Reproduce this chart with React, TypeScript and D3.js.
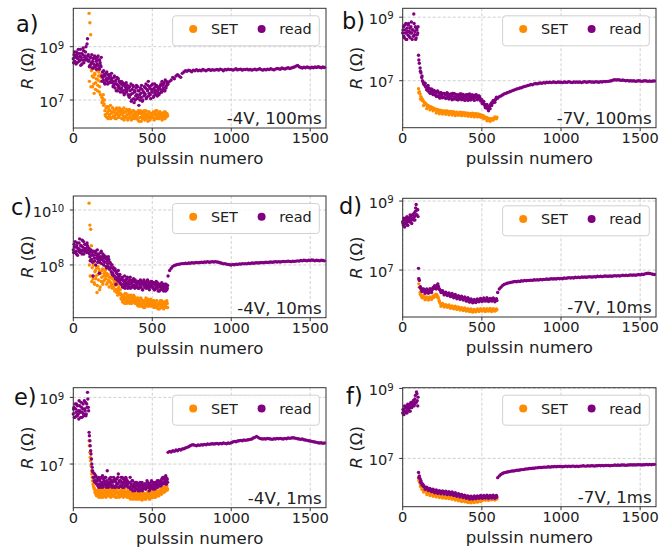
import React from 'react';
import * as d3 from 'd3';

const W = 661;
const H = 556;
const ORANGE = '#ff8c00';
const PURPLE = '#800080';
const FONT = '"DejaVu Sans", sans-serif';

// x axis ticks (pulse number)
const xTicks = [0, 500, 1000, 1500];
const X_MAX = 1600;

// where each measured run starts, and its pulse spacing
const PRISTINE_START = 0;
const PRISTINE_START_2 = 2;
const MID_START = 100;
const MID_START_2 = 102;
const TAIL_START = 600;
const FINE_STEP = 5;
const COARSE_STEP = 10;
const TAIL_STEP = 10;

// ---- a) -4V, 100ms : log10(R / Ω) ----
const aReadPristine = [8.55,8.7,8.45,8.65,8.8,8.4,8.6,8.75,8.5,8.9,8.6,8.35,8.7,8.85,8.5,8.65,9.0,8.55,9.3,8.7];
const aReadPristine2 = [8.4,8.8,8.6,8.35,8.7,8.55,8.9,8.45,8.65,8.3,8.75,8.5,8.95,8.4,8.6,8.8,8.5,9.1,8.65,8.45];
const aReadMid = [
  8.5,8.3,8.6,8.4,8.2,8.55,8.35,8.65,8.25,8.45,8.6,8.3,8.5,8.15,8.4,8.25,
  7.9,8.05,7.75,7.95,7.6,8.0,7.8,7.7,7.95,7.85,7.65,7.9,7.75,7.8,
  7.7,7.55,7.9,7.45,7.75,7.6,7.35,7.8,7.5,7.65,7.4,7.7,7.3,7.55,7.6,7.25,7.5,7.65,7.35,7.45,
  7.45,7.1,7.35,7.6,7.0,7.25,7.5,6.9,7.3,7.15,7.55,7.05,7.35,6.8,7.2,7.45,7.1,7.4,7.0,7.3,
  7.5,7.2,7.6,7.1,7.35,7.7,7.25,7.45,7.05,7.55,7.3,7.4,7.15,7.6,7.35,7.2,7.5,7.3,7.45,7.25,
  7.4,7.6,7.3,7.55,7.45,7.65,7.35,7.5,7.7,7.6];
const aReadMid2 = [
  8.25,8.6,8.35,8.7,8.45,8.2,8.6,8.3,8.55,8.15,8.35,8.65,8.2,8.5,8.3,8.6,
  7.7,7.85,8.1,7.65,7.9,7.75,8.05,7.6,7.8,7.95,7.85,7.7,8.0,7.65,
  7.5,7.85,7.6,7.7,7.35,7.85,7.55,7.45,7.7,7.3,7.6,7.45,7.65,7.35,7.2,7.6,7.4,7.3,7.55,7.2,
  7.15,7.5,7.2,6.95,7.4,7.55,7.05,7.35,7.0,7.45,7.2,7.5,7.1,7.35,7.0,7.25,7.55,6.95,7.3,7.15,
  7.25,7.45,7.05,7.4,7.55,7.15,7.5,7.2,7.4,7.3,7.6,7.1,7.45,7.25,7.5,7.55,7.15,7.4,7.2,7.5,
  7.55,7.3,7.7,7.4,7.6,7.35,7.75,7.45,7.55,7.65];
const aReadTail = [
  7.6,7.7,7.75,7.85,7.8,7.9,7.95,7.9,7.85,8.0,
  8.05,8.1,8.08,8.12,8.1,8.06,8.12,8.1,8.14,8.1,
  8.12,8.1,8.15,8.12,8.1,8.13,8.15,8.11,8.14,8.12,
  8.13,8.15,8.12,8.16,8.14,8.1,8.15,8.13,8.16,8.14,
  8.15,8.12,8.14,8.17,8.13,8.15,8.16,8.12,8.15,8.14,
  8.16,8.13,8.15,8.12,8.14,8.16,8.13,8.15,8.17,8.14,
  8.12,8.15,8.13,8.16,8.14,8.17,8.15,8.13,8.16,8.18,
  8.17,8.15,8.2,8.18,8.16,8.19,8.21,8.18,8.2,8.22,
  8.24,8.27,8.3,8.25,8.22,8.2,8.23,8.21,8.24,8.22,
  8.2,8.23,8.21,8.24,8.22,8.25,8.23,8.21,8.24,8.22];
const aSet = [
  10.25,9.9,9.45,8.1,
  7.9,8.2,7.6,8.0,7.4,7.8,8.1,7.55,7.9,7.3,7.7,7.95,
  7.1,6.95,7.2,6.85,
  6.6,6.4,6.75,6.5,6.3,6.65,6.45,6.8,6.35,6.55,6.7,6.4,6.6,6.3,6.5,6.7,6.45,6.55,6.35,6.6,
  6.45,6.65,6.3,6.5,6.7,6.35,6.55,6.4,6.6,6.25,6.5,6.65,6.4,6.55,6.3,6.6,6.45,6.35,6.55,6.5,
  6.4,6.55,6.25,6.5,6.35,6.6,6.2,6.45,6.55,6.3,6.5,6.4,6.6,6.3,6.45,6.35,6.55,6.25,6.5,6.4,
  6.45,6.35,6.55,6.3,6.5,6.4,6.6,6.35,6.45,6.3,6.55,6.4,6.5,6.35,6.45,6.55,6.3,6.5,6.4,6.45];
const aSet2 = [
  7.7,8.25,7.5,8.15,
  7.5,7.85,7.25,7.95,7.65,8.15,7.35,7.75,8.05,7.5,7.2,7.85,
  6.9,7.05,6.8,7.0,
  6.45,6.7,6.35,6.55,6.75,6.4,6.6,6.3,6.5,6.7,6.35,6.55,6.4,6.65,6.3,6.45,6.6,6.35,6.7,6.45,
  6.55,6.3,6.6,6.4,6.25,6.55,6.35,6.65,6.45,6.3,6.6,6.35,6.5,6.25,6.55,6.4,6.6,6.3,6.45,6.35,
  6.3,6.45,6.6,6.2,6.5,6.35,6.55,6.3,6.4,6.6,6.25,6.5,6.35,6.45,6.2,6.55,6.4,6.3,6.5,6.35,
  6.35,6.55,6.25,6.45,6.6,6.3,6.4,6.5,6.3,6.55,6.35,6.45,6.25,6.5,6.4,6.3,6.55,6.35,6.5,6.4];

// ---- b) -7V, 100ms ----
const bReadPristine = [8.5,8.7,8.35,8.6,8.8,8.3,8.55,8.75,8.4,8.65,8.5,8.85,8.3,8.6,9.1,8.45,8.7,8.35,8.6,8.5];
const bReadPristine2 = [8.6,8.4,8.75,8.5,8.3,8.65,8.45,8.8,8.55,8.35,8.7,8.5,8.6,8.4,8.8,8.55,8.3,8.65,8.45,8.7];
const bReadMid = [
  7.8,7.55,7.4,7.25,7.1,7.0,6.95,6.9,6.85,6.8,
  6.8,6.7,6.85,6.65,6.75,6.6,6.72,6.68,6.6,6.7,
  6.65,6.55,6.6,6.5,6.68,6.52,6.6,6.45,6.62,6.55,6.5,6.6,6.48,6.58,6.55,6.45,6.62,6.5,6.56,6.48,
  6.55,6.45,6.52,6.6,6.42,6.5,6.58,6.45,6.5,6.4,6.55,6.48,6.52,6.44,6.58,6.5,6.46,6.54,6.42,6.5,
  6.5,6.44,6.56,6.46,6.52,6.4,6.5,6.55,6.45,6.5,6.42,6.53,6.47,6.55,6.5,6.45,6.52,6.5,6.44,6.4,
  6.4,6.35,6.3,6.25,6.2,6.25,6.15,6.2,6.1,6.15,6.2,6.25,6.3,6.28,6.35,6.32,6.38,6.4,6.42,6.45];
const bReadMid2 = [
  7.65,7.3,7.15,6.9,6.92,6.72,6.78,6.62,6.74,6.56,
  6.68,6.52,6.66,6.5,6.62,6.46,6.6,6.44,6.6,6.42,
  6.58,6.4,6.6,6.42,6.56,6.4,6.58,6.4,6.57,6.38,
  6.56,6.38,6.58,6.4,6.55,6.38,6.56,6.4,6.52,6.36,
  6.28,6.35,6.15,6.25,6.05,6.12,6.22,6.38,6.32,6.48];
const bReadTail = [
  6.45,6.5,6.52,6.55,6.58,6.6,6.62,6.64,6.66,6.68,
  6.7,6.72,6.74,6.75,6.77,6.78,6.8,6.82,6.83,6.85,
  6.86,6.88,6.87,6.9,6.91,6.9,6.92,6.93,6.92,6.94,
  6.93,6.95,6.94,6.95,6.94,6.96,6.95,6.94,6.96,6.95,
  6.95,6.94,6.96,6.95,6.95,6.97,6.95,6.94,6.96,6.95,
  6.96,6.95,6.96,6.94,6.96,6.97,6.95,6.96,6.97,6.96,
  6.96,6.95,6.97,6.96,6.95,6.97,6.96,6.98,6.97,6.98,
  6.98,6.99,7.0,7.02,7.03,7.02,7.03,7.02,7.01,7.02,
  7.01,7.0,7.01,6.99,7.0,6.99,7.0,6.98,6.99,7.0,
  6.99,6.98,6.99,7.0,6.99,6.98,6.99,6.98,6.99,6.99];
const bSet = [
  6.75,6.65,6.58,6.5,6.45,6.4,6.36,6.32,6.3,6.27,
  6.25,6.2,6.22,6.17,6.19,6.15,6.17,6.12,6.15,6.1,
  6.12,6.08,6.1,6.05,6.09,6.04,6.07,6.02,6.06,6.03,6.05,6.0,6.04,6.02,6.05,6.0,6.03,5.99,6.02,6.0,
  6.01,5.98,6.02,5.97,6.0,5.96,5.99,5.97,6.01,5.96,5.98,5.95,5.99,5.97,6.0,5.95,5.98,5.96,5.99,5.95,
  5.97,5.94,5.98,5.95,5.97,5.93,5.96,5.94,5.98,5.93,5.95,5.92,5.96,5.94,5.93,5.95,5.92,5.94,5.9,5.92,
  5.9,5.88,5.9,5.86,5.85,5.82,5.84,5.8,5.82,5.78,5.8,5.76,5.79,5.77,5.8,5.82,5.8,5.84,5.82,5.85];
const bSet2 = [
  6.62,6.42,6.38,6.22,6.28,6.12,6.2,6.08,6.16,6.05,
  6.1,5.98,6.08,5.96,6.06,5.95,6.04,5.94,6.05,5.93,
  6.03,5.92,6.02,5.9,6.0,5.91,6.01,5.9,5.99,5.9,
  5.98,5.88,5.97,5.87,5.96,5.86,5.95,5.86,5.94,5.85,
  5.86,5.8,5.84,5.74,5.78,5.72,5.8,5.76,5.86,5.8];

// ---- c) -4V, 10ms ----
const cReadPristine = [8.55,8.75,8.45,8.65,8.4,8.8,8.6,8.5,8.95,8.55,8.7,8.4,8.65,8.85,8.5,8.6,8.75,8.45,8.7,8.55];
const cReadPristine2 = [8.45,8.65,8.85,8.5,8.7,8.35,8.6,8.8,8.45,8.7,8.5,8.9,8.55,8.4,8.75,8.6,8.5,8.8,8.65,8.45];
const cReadMid = [
  8.6,8.3,8.5,8.2,8.45,7.6,8.35,8.15,8.5,8.25,8.4,8.1,8.3,7.7,8.2,8.45,8.05,8.3,8.15,8.35,
  8.1,8.3,7.9,8.15,7.95,8.2,7.85,8.05,7.75,8.0,7.7,7.9,7.6,7.85,7.3,7.7,7.55,7.8,7.5,7.65,
  7.45,7.3,7.55,7.2,7.4,7.6,7.25,7.35,7.5,7.15,7.4,7.3,7.55,7.2,7.35,7.45,7.25,7.4,7.15,7.35,
  7.35,7.2,7.4,7.15,7.3,7.45,7.2,7.35,7.1,7.3,7.4,7.2,7.35,7.25,7.45,7.15,7.3,7.2,7.4,7.25,
  7.3,7.15,7.35,7.1,7.25,7.4,7.15,7.3,7.2,7.05,7.3,7.2,7.35,7.1,7.25,7.15,7.3,7.05,7.2,7.15];
const cReadMid2 = [
  8.4,8.15,8.55,8.35,8.1,8.5,8.25,8.45,8.0,8.35,8.55,8.2,8.4,8.1,8.3,8.5,8.2,8.4,8.0,8.25,
  8.25,7.95,8.2,8.05,8.3,7.85,8.1,7.9,8.0,7.65,7.85,7.6,7.8,7.5,7.75,7.45,7.65,7.4,7.6,7.35,
  7.3,7.5,7.2,7.45,7.3,7.15,7.45,7.25,7.55,7.3,7.2,7.45,7.15,7.4,7.3,7.2,7.5,7.25,7.45,7.2,
  7.25,7.4,7.15,7.35,7.2,7.3,7.4,7.1,7.3,7.45,7.2,7.3,7.15,7.4,7.25,7.35,7.1,7.3,7.25,7.4,
  7.2,7.35,7.1,7.3,7.15,7.25,7.35,7.05,7.25,7.3,7.1,7.25,7.15,7.3,7.05,7.25,7.15,7.3,7.1,7.25];
const cReadTail = [
  7.6,7.8,7.88,7.95,7.98,8.0,8.02,8.03,8.04,8.05,
  8.05,8.06,8.05,8.07,8.06,8.08,8.07,8.08,8.09,8.08,
  8.09,8.1,8.09,8.11,8.1,8.12,8.1,8.11,8.12,8.11,
  8.12,8.11,8.1,8.08,8.06,8.04,8.05,8.03,8.02,8.01,
  8.0,8.02,8.01,8.03,8.02,8.04,8.03,8.05,8.04,8.05,
  8.04,8.06,8.05,8.07,8.06,8.07,8.08,8.07,8.08,8.09,
  8.08,8.09,8.1,8.09,8.1,8.11,8.1,8.11,8.12,8.11,
  8.12,8.11,8.12,8.13,8.12,8.13,8.14,8.13,8.12,8.14,
  8.13,8.14,8.15,8.14,8.16,8.15,8.17,8.16,8.15,8.17,
  8.16,8.18,8.17,8.15,8.17,8.16,8.15,8.17,8.16,8.15];
const cSet = [
  10.25,9.45,9.3,8.7,
  7.9,7.5,8.1,7.3,7.8,7.6,7.0,7.95,7.45,7.75,7.2,8.05,7.55,7.85,7.4,7.7,
  7.8,7.5,7.7,7.35,7.65,7.9,7.4,7.55,7.25,7.5,7.6,7.2,7.4,7.1,7.35,7.0,7.3,7.15,7.2,6.95,
  6.95,6.75,6.9,6.7,6.85,6.6,6.8,6.95,6.7,6.85,6.65,6.8,6.75,6.9,6.6,6.8,6.7,6.85,6.65,6.75,
  6.7,6.55,6.8,6.6,6.7,6.5,6.75,6.6,6.65,6.45,6.7,6.55,6.8,6.6,6.5,6.7,6.6,6.55,6.75,6.6,
  6.65,6.5,6.7,6.55,6.6,6.45,6.7,6.5,6.6,6.4,6.65,6.55,6.7,6.45,6.6,6.5,6.65,6.55,6.45,6.6];
const cSet2 = [
  8.0,7.6,8.2,7.4,
  7.6,8.0,7.35,7.75,7.5,7.9,7.25,7.65,7.85,7.1,7.7,7.4,7.8,7.3,7.6,7.45,
  7.6,7.85,7.3,7.6,7.45,7.2,7.55,7.35,7.7,7.15,7.3,7.45,7.05,7.25,7.1,7.3,6.9,7.05,6.95,7.1,
  6.8,6.9,6.65,6.85,6.75,6.95,6.7,6.6,6.85,6.75,6.9,6.6,6.8,6.7,6.85,6.65,6.9,6.75,6.6,6.8,
  6.6,6.75,6.5,6.7,6.55,6.8,6.6,6.5,6.7,6.6,6.45,6.7,6.55,6.65,6.75,6.5,6.65,6.7,6.5,6.6,
  6.55,6.7,6.45,6.6,6.5,6.7,6.55,6.4,6.6,6.55,6.7,6.45,6.6,6.5,6.4,6.65,6.5,6.6,6.7,6.45];

// ---- d) -7V, 10ms ----
const dReadPristine = [8.4,8.3,8.45,8.35,8.5,8.4,8.3,8.45,8.5,8.4,8.55,8.45,8.5,8.6,8.45,8.55,8.7,8.9,8.6,8.75];
const dReadPristine2 = [8.35,8.5,8.25,8.45,8.35,8.55,8.3,8.5,8.4,8.6,8.45,8.35,8.6,8.5,8.65,8.45,8.8,8.6,8.75,8.55];
const dReadMid = [
  7.05,6.7,6.5,6.45,6.42,6.45,6.4,6.43,6.38,6.4,
  6.38,6.42,6.36,6.4,6.37,6.41,6.38,6.43,6.45,6.47,
  6.48,6.5,6.52,6.55,6.5,6.53,6.45,6.42,6.4,6.38,
  6.36,6.35,6.33,6.34,6.31,6.32,6.3,6.31,6.28,6.29,
  6.28,6.27,6.26,6.27,6.25,6.24,6.25,6.23,6.22,6.23,6.21,6.22,6.2,6.21,6.19,6.2,6.18,6.19,6.17,6.18,
  6.17,6.16,6.15,6.14,6.15,6.12,6.13,6.1,6.11,6.09,6.1,6.08,6.11,6.09,6.12,6.1,6.12,6.11,6.13,6.12,
  6.12,6.14,6.13,6.15,6.13,6.14,6.12,6.15,6.14,6.13,6.15,6.14,6.16,6.13,6.15,6.14,6.12,6.14,6.13,6.12];
const dReadMid2 = [
  6.75,6.52,6.38,6.45,6.33,6.45,6.33,6.46,6.35,6.5,
  6.55,6.45,6.6,6.45,6.35,6.4,6.28,6.36,6.26,6.34,
  6.23,6.32,6.2,6.29,6.17,6.26,6.15,6.24,6.13,6.22,
  6.1,6.2,6.07,6.16,6.05,6.15,6.06,6.16,6.08,6.18,
  6.09,6.19,6.1,6.2,6.09,6.18,6.1,6.19,6.08,6.17];
const dReadTail = [
  6.35,6.45,6.5,6.55,6.58,6.6,6.62,6.63,6.64,6.65,
  6.66,6.67,6.66,6.68,6.67,6.69,6.68,6.7,6.69,6.7,
  6.7,6.71,6.7,6.72,6.71,6.72,6.71,6.73,6.72,6.73,
  6.73,6.74,6.73,6.74,6.75,6.74,6.75,6.74,6.76,6.75,
  6.76,6.75,6.77,6.76,6.77,6.78,6.77,6.78,6.77,6.79,
  6.78,6.79,6.78,6.8,6.79,6.8,6.79,6.8,6.81,6.8,
  6.8,6.81,6.8,6.82,6.81,6.82,6.81,6.82,6.83,6.82,
  6.82,6.83,6.82,6.83,6.84,6.83,6.84,6.83,6.84,6.85,
  6.84,6.85,6.84,6.85,6.86,6.85,6.86,6.85,6.86,6.87,
  6.86,6.88,6.87,6.89,6.9,6.91,6.9,6.89,6.88,6.87];
const dSet = [
  6.75,6.5,6.35,6.28,6.24,6.22,6.2,6.22,6.19,6.18,
  6.18,6.17,6.19,6.16,6.18,6.17,6.19,6.18,6.2,6.21,
  6.22,6.24,6.26,6.28,6.25,6.2,6.12,6.05,6.02,6.0,
  5.99,5.98,5.97,5.98,5.96,5.97,5.95,5.96,5.94,5.95,
  5.94,5.93,5.94,5.92,5.93,5.91,5.92,5.9,5.91,5.9,5.89,5.9,5.88,5.89,5.88,5.87,5.88,5.86,5.87,5.86,
  5.85,5.86,5.84,5.85,5.83,5.84,5.82,5.83,5.81,5.82,5.81,5.82,5.83,5.82,5.84,5.83,5.84,5.83,5.85,5.84,
  5.84,5.85,5.84,5.86,5.85,5.84,5.86,5.85,5.84,5.85,5.86,5.84,5.85,5.84,5.86,5.85,5.84,5.85,5.84,5.85];
const dSet2 = [
  6.6,6.3,6.2,6.26,6.14,6.22,6.13,6.22,6.15,6.25,
  6.28,6.3,6.2,6.08,5.95,6.03,5.93,6.0,5.92,5.99,
  5.89,5.96,5.88,5.95,5.86,5.93,5.84,5.91,5.83,5.9,
  5.81,5.88,5.8,5.87,5.78,5.86,5.79,5.87,5.8,5.88,
  5.81,5.88,5.8,5.88,5.81,5.89,5.8,5.88,5.81,5.87];

// ---- e) -4V, 1ms ----
const eReadPristine = [8.5,8.7,8.4,8.65,8.8,8.45,8.6,8.35,8.75,8.55,8.85,8.4,8.65,8.5,8.9,8.6,8.45,8.8,9.15,8.7];
const eReadPristine2 = [8.65,8.4,8.8,8.55,8.45,8.75,8.5,8.9,8.6,8.4,8.7,8.55,8.8,8.45,8.65,8.85,8.5,8.7,8.95,8.6];
const eReadMid = [
  7.95,7.7,7.4,7.15,6.9,6.75,6.6,6.7,6.5,6.6,
  6.5,6.35,6.6,6.4,6.55,6.3,6.45,6.65,6.35,6.5,6.4,6.6,6.3,6.8,6.45,6.35,6.55,6.4,6.5,6.3,
  6.45,6.6,6.3,6.5,6.35,6.55,6.4,6.7,6.3,6.45,6.5,6.35,6.6,6.4,6.3,6.5,6.45,6.55,6.35,6.4,
  6.45,6.3,6.6,6.35,6.25,6.5,6.3,6.4,6.2,6.35,6.45,6.25,6.4,6.3,6.2,6.35,6.3,6.45,6.25,6.35,
  6.3,6.4,6.25,6.35,6.45,6.3,6.2,6.4,6.3,6.5,6.35,6.25,6.4,6.3,6.45,6.35,6.4,6.3,6.5,6.4,
  6.45,6.35,6.55,6.4,6.6,6.45,6.5,6.65,6.4,6.55];
const eReadMid2 = [
  7.85,7.55,7.3,7.0,6.8,6.6,6.5,6.45,6.65,6.4,
  6.4,6.55,6.3,6.5,6.35,6.6,6.4,6.3,6.55,6.45,6.6,6.35,6.5,6.4,6.3,6.55,6.45,6.6,6.35,6.5,
  6.35,6.5,6.55,6.3,6.45,6.4,6.6,6.3,6.5,6.35,6.6,6.45,6.3,6.55,6.45,6.35,6.6,6.4,6.5,6.3,
  6.3,6.45,6.25,6.4,6.5,6.2,6.35,6.3,6.45,6.25,6.35,6.4,6.2,6.35,6.45,6.25,6.4,6.2,6.35,6.3,
  6.4,6.25,6.35,6.5,6.3,6.4,6.35,6.25,6.45,6.35,6.3,6.45,6.35,6.25,6.4,6.3,6.5,6.4,6.35,6.45,
  6.35,6.5,6.4,6.6,6.45,6.55,6.4,6.6,6.5,6.45];
const eReadTail = [
  7.35,7.38,7.36,7.4,7.38,7.42,7.4,7.44,7.42,7.45,
  7.46,7.48,7.5,7.52,7.55,7.57,7.58,7.56,7.55,7.57,
  7.56,7.58,7.57,7.59,7.58,7.6,7.59,7.6,7.61,7.6,
  7.61,7.62,7.6,7.62,7.61,7.63,7.62,7.61,7.63,7.62,
  7.64,7.66,7.68,7.67,7.69,7.7,7.71,7.7,7.72,7.71,
  7.72,7.73,7.74,7.75,7.78,7.8,7.83,7.8,7.77,7.76,
  7.75,7.76,7.75,7.77,7.76,7.75,7.74,7.76,7.75,7.77,
  7.76,7.77,7.76,7.75,7.77,7.76,7.78,7.77,7.78,7.79,
  7.78,7.77,7.76,7.75,7.74,7.75,7.73,7.72,7.71,7.7,
  7.69,7.68,7.67,7.66,7.65,7.64,7.63,7.64,7.62,7.63];
const eSet = [
  7.7,7.35,7.1,6.8,6.6,6.4,6.3,6.25,6.2,6.15,
  6.2,6.05,6.25,6.1,6.2,6.0,6.15,6.3,6.1,6.2,6.05,6.25,6.15,6.1,6.3,6.05,6.2,6.1,6.15,6.25,
  6.15,6.05,6.25,6.1,6.2,6.0,6.15,6.3,6.1,6.2,6.05,6.15,6.25,6.1,6.2,6.05,6.15,6.1,6.0,6.2,
  6.1,6.0,6.2,6.05,6.15,5.95,6.1,6.0,6.2,6.05,5.95,6.1,6.0,6.15,5.95,6.05,6.1,5.92,6.05,6.0,
  6.0,6.1,5.95,6.05,6.15,6.0,6.1,5.95,6.05,6.2,6.0,6.1,6.05,6.15,6.0,6.1,6.2,6.05,6.15,6.1,
  6.15,6.25,6.1,6.2,6.3,6.15,6.25,6.2,6.3,6.22];
const eSet2 = [
  7.55,7.2,6.95,6.7,6.5,6.35,6.25,6.15,6.1,6.05,
  6.1,6.2,6.0,6.15,6.05,6.25,6.1,6.0,6.2,6.05,6.15,6.0,6.2,6.05,6.15,6.25,6.1,6.0,6.2,6.05,
  6.05,6.2,6.1,6.0,6.15,6.25,6.05,6.15,6.0,6.1,6.2,6.05,6.15,6.0,6.1,6.25,6.05,6.15,6.1,6.05,
  6.0,6.15,5.95,6.1,6.05,6.15,5.95,6.05,6.1,5.95,6.05,6.15,5.95,6.05,6.1,6.0,5.95,6.05,6.15,5.95,
  6.1,5.95,6.05,6.0,6.1,6.15,5.95,6.05,6.15,6.0,6.1,6.2,6.0,6.1,6.15,6.05,6.1,6.15,6.05,6.2,
  6.2,6.1,6.25,6.15,6.2,6.3,6.2,6.25,6.35,6.25];

// ---- f) -7V, 1ms ----
const fReadPristine = [8.3,8.4,8.35,8.45,8.3,8.5,8.4,8.45,8.35,8.55,8.45,8.5,8.6,8.5,8.65,8.55,8.8,8.6,8.85,8.5];
const fReadPristine2 = [8.4,8.25,8.5,8.35,8.45,8.3,8.55,8.4,8.5,8.35,8.6,8.45,8.55,8.65,8.5,8.7,8.6,8.9,8.65,8.75];
const fReadMid = [
  6.6,6.5,6.42,6.36,6.3,6.26,6.24,6.2,6.18,6.16,
  6.15,6.14,6.12,6.13,6.1,6.11,6.1,6.08,6.09,6.07,
  6.08,6.06,6.07,6.05,6.06,6.04,6.05,6.03,6.04,6.05,6.03,6.04,6.02,6.03,6.04,6.02,6.03,6.01,6.02,6.0,
  6.02,6.0,6.01,5.99,6.0,5.98,5.99,5.97,5.98,5.96,5.97,5.95,5.96,5.94,5.95,5.93,5.94,5.92,5.93,5.91,
  5.92,5.9,5.91,5.89,5.9,5.88,5.89,5.87,5.88,5.87,5.88,5.89,5.88,5.9,5.89,5.88,5.9,5.89,5.9,5.88,
  5.89,5.9,5.88,5.9,5.91,5.89,5.9,5.92,5.9,5.91,5.89,5.9,5.92,5.9,5.91,5.89,5.9,5.91,5.89,5.9];
const fReadMid2 = [
  6.45,6.32,6.24,6.2,6.12,6.18,6.08,6.14,6.05,6.12,
  6.02,6.1,6.0,6.08,5.99,6.07,5.98,6.06,5.97,6.05,
  5.96,6.04,5.94,6.02,5.92,5.99,5.9,5.97,5.88,5.95,
  5.86,5.93,5.84,5.92,5.84,5.93,5.85,5.93,5.86,5.94,
  5.86,5.94,5.87,5.95,5.86,5.94,5.87,5.95,5.86,5.94];
const fReadTail = [
  6.45,6.5,6.54,6.57,6.59,6.6,6.61,6.62,6.63,6.64,
  6.64,6.65,6.66,6.66,6.67,6.68,6.68,6.69,6.7,6.7,
  6.71,6.71,6.72,6.72,6.73,6.73,6.74,6.74,6.74,6.75,
  6.75,6.75,6.76,6.75,6.76,6.76,6.77,6.76,6.77,6.77,
  6.77,6.76,6.77,6.78,6.77,6.78,6.77,6.78,6.78,6.77,
  6.78,6.77,6.78,6.78,6.79,6.78,6.78,6.79,6.78,6.79,
  6.79,6.78,6.79,6.79,6.8,6.79,6.8,6.79,6.8,6.8,
  6.8,6.79,6.8,6.8,6.81,6.8,6.81,6.8,6.81,6.81,
  6.81,6.8,6.81,6.81,6.82,6.81,6.82,6.81,6.82,6.82,
  6.82,6.81,6.82,6.82,6.83,6.82,6.83,6.82,6.83,6.83];
const fSet = [
  6.45,6.35,6.28,6.22,6.18,6.14,6.1,6.08,6.06,6.05,
  6.04,6.02,6.03,6.0,6.01,5.99,6.0,5.98,5.97,5.96,
  5.97,5.95,5.96,5.94,5.95,5.93,5.94,5.92,5.93,5.92,5.91,5.92,5.9,5.91,5.92,5.9,5.91,5.89,5.9,5.89,
  5.9,5.88,5.89,5.87,5.88,5.86,5.87,5.85,5.86,5.84,5.85,5.83,5.84,5.82,5.83,5.81,5.82,5.8,5.81,5.79,
  5.8,5.78,5.79,5.77,5.78,5.76,5.77,5.76,5.78,5.77,5.79,5.78,5.8,5.79,5.81,5.8,5.82,5.81,5.83,5.82,
  5.82,5.83,5.82,5.84,5.83,5.82,5.84,5.83,5.85,5.84,5.83,5.85,5.84,5.83,5.85,5.84,5.83,5.84,5.85,5.84];
const fSet2 = [
  6.38,6.2,6.12,6.04,6.06,5.97,6.02,5.94,5.99,5.92,
  5.97,5.9,5.95,5.88,5.94,5.87,5.93,5.86,5.92,5.85,
  5.9,5.83,5.87,5.81,5.85,5.79,5.83,5.77,5.81,5.76,
  5.78,5.74,5.76,5.73,5.78,5.74,5.79,5.75,5.81,5.77,
  5.8,5.86,5.81,5.87,5.8,5.86,5.82,5.87,5.81,5.86];

type Pt = { p: number; r: number };
type Run = [number[], number, number]; // values, first pulse, pulse step

function series(runs: Run[]): Pt[] {
  const out: Pt[] = [];
  for (const [logs, start, step] of runs) {
    logs.forEach((v, i) => out.push({ p: start + i * step, r: Math.pow(10, v) }));
  }
  return out;
}

type PanelSpec = {
  letter: string;
  note: string;
  box: { x0: number; x1: number; y0: number; y1: number };
  logDomain: [number, number];
  yTickExps: number[];
  letterPos: [number, number];
  read: Pt[];
  set: Pt[];
};

const LEFT = { x0: 73.3, x1: 326 };
const RIGHT = { x0: 402.7, x1: 656 };

const panels: PanelSpec[] = [
  { letter: 'a)', note: '-4V, 100ms', box: { ...LEFT, y0: 8.3, y1: 128 }, logDomain: [5.95, 10.44], yTickExps: [7, 9], letterPos: [16, 31.5],
    read: series([[aReadPristine, PRISTINE_START, FINE_STEP], [aReadPristine2, PRISTINE_START_2, FINE_STEP], [aReadMid, MID_START, FINE_STEP], [aReadMid2, MID_START_2, FINE_STEP], [aReadTail, TAIL_START, TAIL_STEP]]),
    set: series([[aSet, MID_START, FINE_STEP], [aSet2, MID_START_2, FINE_STEP]]) },
  { letter: 'b)', note: '-7V, 100ms', box: { ...RIGHT, y0: 8.3, y1: 127.7 }, logDomain: [5.52, 9.28], yTickExps: [7, 9], letterPos: [342, 28.5],
    read: series([[bReadPristine, PRISTINE_START, FINE_STEP], [bReadPristine2, PRISTINE_START_2, FINE_STEP], [bReadMid, MID_START, FINE_STEP], [bReadMid2, MID_START_2, COARSE_STEP], [bReadTail, TAIL_START, TAIL_STEP]]),
    set: series([[bSet, MID_START, FINE_STEP], [bSet2, MID_START_2, COARSE_STEP]]) },
  { letter: 'c)', note: '-4V, 10ms', box: { ...LEFT, y0: 196, y1: 317.7 }, logDomain: [6.08, 10.51], yTickExps: [8, 10], letterPos: [11, 214.5],
    read: series([[cReadPristine, PRISTINE_START, FINE_STEP], [cReadPristine2, PRISTINE_START_2, FINE_STEP], [cReadMid, MID_START, FINE_STEP], [cReadMid2, MID_START_2, FINE_STEP], [cReadTail, TAIL_START, TAIL_STEP]]),
    set: series([[cSet, MID_START, FINE_STEP], [cSet2, MID_START_2, FINE_STEP]]) },
  { letter: 'd)', note: '-7V, 10ms', box: { ...RIGHT, y0: 198.3, y1: 317 }, logDomain: [5.64, 9.08], yTickExps: [7, 9], letterPos: [339, 213.5],
    read: series([[dReadPristine, PRISTINE_START, FINE_STEP], [dReadPristine2, PRISTINE_START_2, FINE_STEP], [dReadMid, MID_START, FINE_STEP], [dReadMid2, MID_START_2, COARSE_STEP], [dReadTail, TAIL_START, TAIL_STEP]]),
    set: series([[dSet, MID_START, FINE_STEP], [dSet2, MID_START_2, COARSE_STEP]]) },
  { letter: 'e)', note: '-4V, 1ms', box: { ...LEFT, y0: 387.7, y1: 507.7 }, logDomain: [5.69, 9.29], yTickExps: [7, 9], letterPos: [14, 405],
    read: series([[eReadPristine, PRISTINE_START, FINE_STEP], [eReadPristine2, PRISTINE_START_2, FINE_STEP], [eReadMid, MID_START, FINE_STEP], [eReadMid2, MID_START_2, FINE_STEP], [eReadTail, TAIL_START, TAIL_STEP]]),
    set: series([[eSet, MID_START, FINE_STEP], [eSet2, MID_START_2, FINE_STEP]]) },
  { letter: 'f)', note: '-7V, 1ms', box: { ...RIGHT, y0: 387.7, y1: 506.7 }, logDomain: [5.62, 9.02], yTickExps: [7, 9], letterPos: [346, 403.5],
    read: series([[fReadPristine, PRISTINE_START, FINE_STEP], [fReadPristine2, PRISTINE_START_2, FINE_STEP], [fReadMid, MID_START, FINE_STEP], [fReadMid2, MID_START_2, COARSE_STEP], [fReadTail, TAIL_START, TAIL_STEP]]),
    set: series([[fSet, MID_START, FINE_STEP], [fSet2, MID_START_2, COARSE_STEP]]) },
];

const TICK_FS = 14.6;
const LABEL_FS = 16.6;
const LEGEND_FS = 14.4;
const DOT_R = 1.7;

function Panel({ spec }: { spec: PanelSpec }) {
  const { box } = spec;
  const x = d3.scaleLinear().domain([0, X_MAX]).range([box.x0, box.x1]);
  const y = d3
    .scaleLog()
    .domain([Math.pow(10, spec.logDomain[0]), Math.pow(10, spec.logDomain[1])])
    .range([box.y1, box.y0]);
  const w = box.x1 - box.x0;
  const h = box.y1 - box.y0;
  const legW = 146.7;
  const legH = 30;
  const legX = box.x1 - 6.7 - legW;
  const legY = box.y0 + 7.5;
  const yLabelX = box.x0 - 40.3;
  const cy = (box.y0 + box.y1) / 2;

  return (
    <g>
      {/* grid */}
      {xTicks.map((t) => (
        <line key={'gx' + t} x1={x(t)} x2={x(t)} y1={box.y0} y2={box.y1}
          stroke="#c4c4c4" strokeWidth={0.8} strokeDasharray="3,2" />
      ))}
      {spec.yTickExps.map((e) => (
        <line key={'gy' + e} x1={box.x0} x2={box.x1} y1={y(Math.pow(10, e))} y2={y(Math.pow(10, e))}
          stroke="#c4c4c4" strokeWidth={0.8} strokeDasharray="3,2" />
      ))}
      {/* SET then read */}
      <g fill={ORANGE}>
        {spec.set.map((d, i) => (
          <circle key={'s' + i} cx={x(d.p)} cy={y(d.r)} r={DOT_R} />
        ))}
      </g>
      <g fill={PURPLE}>
        {spec.read.map((d, i) => (
          <circle key={'r' + i} cx={x(d.p)} cy={y(d.r)} r={DOT_R} />
        ))}
      </g>
      {/* frame */}
      <rect x={box.x0} y={box.y0} width={w} height={h} fill="none" stroke="#333" strokeWidth={1} />
      {/* x ticks */}
      {xTicks.map((t) => (
        <g key={'xt' + t}>
          <line x1={x(t)} x2={x(t)} y1={box.y1} y2={box.y1 + 3.5} stroke="#333" strokeWidth={1} />
          <text x={x(t)} y={box.y1 + 15.3} textAnchor="middle" fontSize={TICK_FS} fill="#222">{t}</text>
        </g>
      ))}
      {/* y ticks */}
      {spec.yTickExps.map((e) => {
        const yy = y(Math.pow(10, e));
        return (
          <g key={'yt' + e}>
            <line x1={box.x0 - 3.5} x2={box.x0} y1={yy} y2={yy} stroke="#333" strokeWidth={1} />
            <text x={box.x0 - 9} y={yy + 6.6} textAnchor="end" fontSize={TICK_FS} fill="#222">
              <tspan>10</tspan>
              <tspan dy={-4.3} fontSize={10.2}>{e}</tspan>
            </text>
          </g>
        );
      })}
      {/* axis labels */}
      <text x={(box.x0 + box.x1) / 2} y={box.y1 + 36} textAnchor="middle" fontSize={LABEL_FS} fill="#222">
        pulssin numero
      </text>
      <text transform={`translate(${yLabelX},${cy}) rotate(-90)`} textAnchor="middle" fontSize={LABEL_FS} fill="#222">
        <tspan fontStyle="italic">R</tspan>
        <tspan> (Ω)</tspan>
      </text>
      {/* legend */}
      <rect x={legX} y={legY} width={legW} height={legH} rx={3} fill="#fff" fillOpacity={0.8} stroke="#d0d0d0" strokeWidth={1} />
      <circle cx={legX + 20.6} cy={legY + 13.3} r={4} fill={ORANGE} />
      <text x={legX + 38.3} y={legY + 18.3} fontSize={LEGEND_FS} fill="#222">SET</text>
      <circle cx={legX + 89} cy={legY + 13.3} r={4} fill={PURPLE} />
      <text x={legX + 106.6} y={legY + 18.3} fontSize={LEGEND_FS} fill="#222">read</text>
      {/* condition note */}
      <text x={box.x1 - 4.3} y={box.y1 - 4} textAnchor="end" fontSize={LABEL_FS} fill="#222">{spec.note}</text>
      {/* panel letter */}
      <text x={spec.letterPos[0]} y={spec.letterPos[1]} fontSize={22.5} fill="#111">{spec.letter}</text>
    </g>
  );
}

export default function App() {
  return (
    <svg
      width={W}
      height={H}
      viewBox={`0 0 ${W} ${H}`}
      style={{ position: 'absolute', left: 0, top: 0, background: '#fff' }}
      fontFamily={FONT}
    >
      <rect width={W} height={H} fill="#fff" />
      {panels.map((p) => (
        <Panel key={p.letter} spec={p} />
      ))}
    </svg>
  );
}
